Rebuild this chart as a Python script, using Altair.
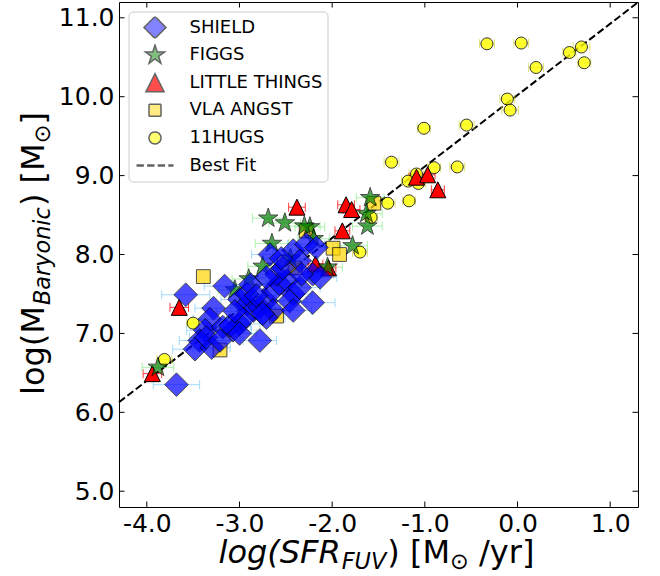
import altair as alt
import pandas as pd

# ----------------------------- data -----------------------------
shield_x = [-3.58, -3.16, -3.28, -3.32, -3.37, -3.43, -3.48, -3.30, -3.36, -3.68,
            -2.21, -3.00, -2.92, -2.85, -2.78, -2.71, -2.64, -2.57, -2.49, -2.64,
            -2.71, -3.00, -3.07, -2.96, -2.42, -2.35, -2.46, -2.67, -2.42, -2.28,
            -2.17, -2.35, -2.21, -2.13, -2.60, -2.71, -2.53, -2.78, -3.18, -3.21,
            -2.92, -2.75, -2.42, -3.10, -2.88, -2.55, -2.82, -3.05, -3.00, -2.33]
shield_y = [7.49, 7.60, 7.32, 7.18, 7.04, 6.91, 6.80, 6.82, 6.95, 6.35,
            7.39, 7.43, 7.37, 7.29, 7.33, 7.41, 7.54, 7.63, 7.67, 7.29,
            7.20, 7.12, 7.04, 7.18, 7.50, 7.58, 7.41, 8.00, 8.05, 8.13,
            8.09, 7.92, 7.75, 7.71, 7.75, 7.71, 7.83, 6.91, 7.08, 6.91,
            7.50, 7.25, 7.29, 7.10, 7.62, 7.95, 7.48, 7.28, 7.00, 7.75]
shield_xerr = [0.26, 0.22, 0.20, 0.18, 0.20, 0.22, 0.24, 0.20, 0.18, 0.25,
               0.24, 0.20, 0.18, 0.20, 0.22, 0.18, 0.20, 0.22, 0.20, 0.18,
               0.20, 0.22, 0.20, 0.18, 0.20, 0.22, 0.18, 0.20, 0.22, 0.20,
               0.18, 0.20, 0.22, 0.18, 0.20, 0.22, 0.20, 0.18, 0.20, 0.22,
               0.20, 0.18, 0.20, 0.22, 0.18, 0.20, 0.22, 0.20, 0.18, 0.20]

figgs_x = [-2.69, -2.51, -2.24, -2.30, -2.65, -1.62, -1.59, -1.63, -1.78, -2.90,
           -3.88, -2.75, -2.45, -2.05, -3.05, -2.20]
figgs_y = [8.46, 8.40, 8.35, 8.36, 8.14, 8.36, 8.72, 8.52, 8.11, 7.69,
           6.57, 7.85, 7.95, 7.84, 7.55, 8.20]
figgs_xerr = [0.17, 0.17, 0.16, 0.17, 0.18, 0.16, 0.15, 0.17, 0.16, 0.18,
              0.17, 0.16, 0.17, 0.16, 0.18, 0.17]

lt_x = [-1.09, -0.97, -0.86, -1.85, -1.79, -1.89, -2.04, -2.38, -2.18, -3.65, -3.94]
lt_y = [8.98, 9.01, 8.82, 8.63, 8.57, 8.30, 7.83, 8.60, 7.88, 7.33, 6.49]
lt_xerr = [0.08, 0.08, 0.07, 0.09, 0.09, 0.08, 0.08, 0.09, 0.08, 0.10, 0.10]

vla_x = [-3.39, -2.28, -1.55, -1.99, -1.92, -3.21, -2.40, -2.60]
vla_y = [7.72, 8.30, 8.65, 8.08, 8.00, 6.79, 7.83, 7.22]

hugs_x = [-0.33, 0.04, 0.56, 0.69, 0.72, 0.20, -0.11, -0.08, -1.01, -0.55,
          -1.36, -0.90, -0.65, -1.18, -1.07, -1.09, -1.17, -1.40, -1.58, -1.70,
          -3.50, -3.81, -2.53, -2.40]
hugs_y = [10.67, 10.68, 10.56, 10.63, 10.43, 10.37, 9.97, 9.83, 9.60, 9.64,
          9.17, 9.10, 9.11, 8.93, 8.90, 9.02, 8.68, 8.65, 8.47, 8.03,
          7.13, 6.67, 7.92, 7.82]
hugs_xerr = [0.08, 0.08, 0.07, 0.09, 0.07, 0.08, 0.08, 0.09, 0.07, 0.08,
             0.08, 0.07, 0.08, 0.07, 0.08, 0.08, 0.07, 0.08, 0.07, 0.08,
             0.07, 0.08, 0.07, 0.08]

fit_slope = 0.905
fit_intercept = 10.02
fit_x = [-4.3, 1.3]

x_ticks = [-4, -3, -2, -1, 0, 1]
y_ticks = [5, 6, 7, 8, 9, 10, 11]

surveys = ["SHIELD", "FIGGS", "LITTLE THINGS", "VLA ANGST", "11HUGS", "Best Fit"]
fill_colors = ["#0000ff", "#008000", "#ff0000", "#ffd700", "#ffff00", "#000000"]
marker_opacity = [0.7, 0.7, 1.0, 0.7, 0.8, 1.0]
# same colours as seen on white (used by the legend swatches)
legend_colors = ["#4d4dff", "#4da64d", "#ff0000", "#ffe34d", "#ffff33", "#000000"]
STAR = ("M0,-1L0.2245,-0.309L0.951,-0.309L0.363,0.118L0.588,0.809L0,0.382"
        "L-0.588,0.809L-0.363,0.118L-0.951,-0.309L-0.2245,-0.309Z")
TRI = "M0,-1L1,1L-1,1Z"
plot_shapes = ["diamond", STAR, TRI, "square", "circle"]
marker_sizes = [560, 420, 256, 190, 144]
legend_shapes = ["M-1.1,0L0,-1.1L1.1,0L0,1.1Z",
                 STAR,
                 "M0,-0.9L0.9,0.9L-0.9,0.9Z",
                 "M-0.6,-0.6H0.6V0.6H-0.6Z",
                 "M0.6,0A0.6,0.6,0,1,1,-0.6,0A0.6,0.6,0,1,1,0.6,0Z",
                 "M-1.85,-0.05H1.85M-1.85,0.05H1.85"]
legend_dashes = [[1, 0], [1, 0], [1, 0], [1, 0], [1, 0], [7.4, 3.2]]
err_colors = ["#87cefa", "#90ee90", "#ff0000", "#ffd700", "#d8d84a"]

# ----------------------------- tables -----------------------------
def group(name, xs, ys, errs=None):
    i = surveys.index(name)
    errs = errs if errs is not None else [0.0] * len(xs)
    return pd.DataFrame({
        "survey": name, "x": xs, "y": ys,
        "xlo": [a - e for a, e in zip(xs, errs)],
        "xhi": [a + e for a, e in zip(xs, errs)],
        "err": errs,
        "sz": marker_sizes[i], "op": marker_opacity[i], "ecolor": err_colors[i],
    })

pts = pd.concat([
    group("11HUGS", hugs_x, hugs_y, hugs_xerr),
    group("VLA ANGST", vla_x, vla_y),
    group("LITTLE THINGS", lt_x, lt_y, lt_xerr),
    group("FIGGS", figgs_x, figgs_y, figgs_xerr),
    group("SHIELD", shield_x, shield_y, shield_xerr),
], ignore_index=True)
errs = pts[pts["err"] > 0]

fit_df = pd.DataFrame({"x": fit_x, "y": [fit_slope * v + fit_intercept for v in fit_x]})
xt_df = pd.DataFrame({"x": x_ticks})
yt_df = pd.DataFrame({"y": y_ticks})
one_row = pd.DataFrame({"k": [0]})

W, H = 519, 505
xs = alt.Scale(domain=[-4.3, 1.3], nice=False, zero=False)
ys = alt.Scale(domain=[4.8, 11.2], nice=False, zero=False)
lab = "datum.value < 0 ? '-' + format(-datum.value, '.1f') : format(datum.value, '.1f')"
xax = alt.Axis(values=x_ticks, labelExpr=lab, title=None, ticks=False, tickSize=0,
               domain=False, grid=False, labelFont="DejaVu Sans", labelFontSize=25,
               labelColor="black", labelPadding=4, labelOverlap=False)
yax = alt.Axis(values=y_ticks, labelExpr=lab, title=None, ticks=False, tickSize=0,
               domain=False, grid=False, labelFont="DejaVu Sans", labelFontSize=25,
               labelColor="black", labelPadding=5, labelOverlap=False)
X = lambda f: alt.X(f, scale=xs, axis=xax)
Y = lambda f: alt.Y(f, scale=ys, axis=yax)

legend = alt.Legend(
    title=None, orient="none", legendX=9.5, legendY=9.5, padding=5,
    labelFont="DejaVu Sans", labelFontSize=18, labelColor="black", labelLimit=140,
    symbolSize=400, symbolOffset=10.5, labelOffset=23.5, rowPadding=5.6, clipHeight=22,
    strokeColor="#cccccc", fillColor="white", cornerRadius=4,
)

# ----------------------------- layers -----------------------------
tick_len = 5.5
ticks = [
    alt.Chart(xt_df).mark_rule(color="black", strokeWidth=1).encode(
        x=X("x:Q"), y=alt.value(H), y2=alt.value(H - tick_len)),
    alt.Chart(xt_df).mark_rule(color="black", strokeWidth=1).encode(
        x=X("x:Q"), y=alt.value(0), y2=alt.value(tick_len)),
    alt.Chart(yt_df).mark_rule(color="black", strokeWidth=1).encode(
        y=Y("y:Q"), x=alt.value(0), x2=alt.value(tick_len)),
    alt.Chart(yt_df).mark_rule(color="black", strokeWidth=1).encode(
        y=Y("y:Q"), x=alt.value(W), x2=alt.value(W - tick_len)),
]

fit_line = alt.Chart(fit_df).mark_line(color="black", strokeWidth=2, strokeDash=[7.4, 3.2]).encode(
    x=X("x:Q"), y=Y("y:Q"))

err_rule = alt.Chart(errs).mark_rule(strokeWidth=1, opacity=0.75).encode(
    x=X("xlo:Q"), x2="xhi:Q", y=Y("y:Q"), stroke=alt.Stroke("ecolor:N", scale=None))
err_lo = alt.Chart(errs).mark_tick(orient="vertical", size=9, thickness=1, opacity=0.75).encode(
    x=X("xlo:Q"), y=Y("y:Q"), fill=alt.Fill("ecolor:N", scale=None))
err_hi = alt.Chart(errs).mark_tick(orient="vertical", size=9, thickness=1, opacity=0.75).encode(
    x=X("xhi:Q"), y=Y("y:Q"), fill=alt.Fill("ecolor:N", scale=None))

points = alt.Chart(pts).mark_point(filled=True, stroke="black", strokeWidth=1).encode(
    x=X("x:Q"), y=Y("y:Q"),
    color=alt.Color("survey:N", scale=alt.Scale(domain=surveys[:-1], range=fill_colors[:-1]), legend=None),
    shape=alt.Shape("survey:N", scale=alt.Scale(domain=surveys[:-1], range=plot_shapes), legend=None),
    size=alt.Size("sz:Q", scale=None),
    opacity=alt.Opacity("op:Q", scale=None),
)

legend_layer = alt.Chart(pts).transform_filter("false").mark_point(
    filled=True, stroke="#222222", strokeWidth=1).encode(
    x=X("x:Q"), y=Y("y:Q"),
    color=alt.Color("survey:N", scale=alt.Scale(domain=surveys, range=legend_colors), legend=legend),
    shape=alt.Shape("survey:N", scale=alt.Scale(domain=surveys, range=legend_shapes), legend=legend),
    strokeDash=alt.StrokeDash("survey:N", scale=alt.Scale(domain=surveys, range=legend_dashes), legend=legend),
)

# ----------------------------- titles -----------------------------
CW = {'l': 0.278, 'o': 0.612, 'g': 0.635, '(': 0.390, ')': 0.390, 'S': 0.635, 'F': 0.575,
      'R': 0.695, 'U': 0.732, 'V': 0.684, ' ': 0.318, '[': 0.390, ']': 0.390, 'M': 0.863,
      '/': 0.337, 'y': 0.592, 'r': 0.411, 'B': 0.686, 'a': 0.613, 'n': 0.634, 'i': 0.278,
      'c': 0.550, '\u2299': 0.838}

def text_width(s, size):
    return sum(CW.get(c, 0.6) for c in s) * size

F, FS, SUB = 32, 22.4, 6
x_title = [("log(SFR", F, True, 0, 1), ("FUV", FS, True, SUB, 1), (") [M", F, False, 0, 0),
           ("\u2299", FS, False, SUB, 0), (" /yr]", F, False, 0, 0)]
y_title = [("log(M", F, False, 0, 1), ("Baryonic", FS, True, SUB, 1), (") [M", F, False, 0, 0),
           ("\u2299", FS, False, SUB, 0), ("]", F, False, 0, 0)]

def title_marks(pieces, start, base, vertical):
    out, pos = [], start
    for txt, size, italic, shift, gap in pieces:
        stripped = txt.lstrip(" ")
        lead = text_width(txt[:len(txt) - len(stripped)], size)
        pos += -lead if vertical else lead
        props = dict(text=stripped, font="DejaVu Sans", fontSize=size, align="left",
                     baseline="alphabetic", color="black")
        if italic:
            props["fontStyle"] = "italic"
        if vertical:
            props["angle"] = 270
            enc = dict(x=alt.value(base + shift), y=alt.value(pos))
        else:
            enc = dict(x=alt.value(pos), y=alt.value(base + shift))
        out.append(alt.Chart(one_row).mark_text(**props).encode(**enc))
        step = text_width(stripped, size) + gap
        pos += -step if vertical else step
    return out

titles = title_marks(x_title, 99.5, 561, False) + title_marks(y_title, 393, -75.5, True)

chart = alt.layer(
    *ticks, fit_line, err_rule, err_lo, err_hi, points, legend_layer, *titles
).resolve_scale(
    color="independent", shape="independent", strokeDash="independent"
).properties(
    width=W, height=H,
    padding={"left": 119, "top": 2, "right": 660 - 119 - W, "bottom": 576 - 2 - H},
    autosize=alt.AutoSizeParams(type="none"),
    background="white",
).configure_view(stroke="black", strokeWidth=1)

chart.save("out.html", embed_options={"renderer": "svg", "actions": False})
